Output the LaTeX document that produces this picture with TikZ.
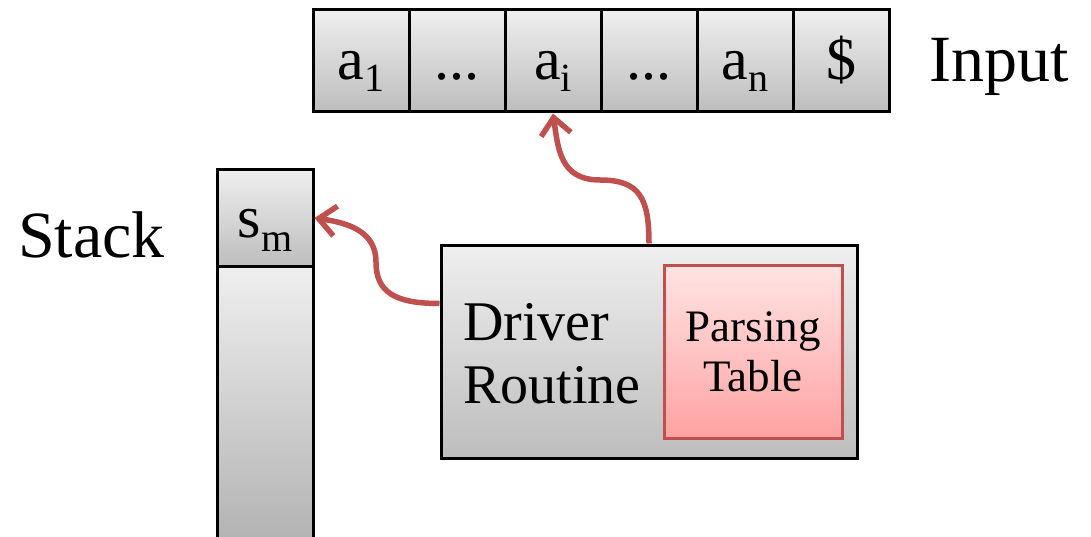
\documentclass[tikz,border=0pt]{standalone}
\usepackage{fontspec}
\setmainfont{Liberation Serif}
\usetikzlibrary{arrows.meta,calc}
\definecolor{cellTop}{HTML}{EFEFEF}
\definecolor{cellBot}{HTML}{BDBDBD}
\definecolor{pinkTop}{HTML}{FFE4E4}
\definecolor{pinkBot}{HTML}{FFA2A2}
\definecolor{accent}{HTML}{C0504D}
\newcommand\lsub[2][12pt]{\raisebox{-#1}{\fontsize{40}{44}\selectfont #2}}
\begin{document}
\begin{tikzpicture}[x=1pt,y=-1pt,
  cell/.style={draw=black,line width=3pt,top color=cellTop,bottom color=cellBot,
    minimum width=96pt,minimum height=102pt,inner sep=0pt,
    font=\fontsize{60}{66}\selectfont,text height=40pt,text depth=2pt},
  bigbox/.style={draw=black,line width=3pt,top color=cellTop,bottom color=cellBot,inner sep=0pt},
  ptab/.style={draw=accent,line width=3pt,top color=pinkTop,bottom color=pinkBot,inner sep=0pt,
    align=center,font=\fontsize{45}{50}\selectfont},
  lbl/.style={anchor=base west,inner sep=0pt,font=\fontsize{66}{72}\selectfont},
  conn/.style={draw=accent,line width=5.5pt,-{Straight Barb[length=17pt,width=30pt]}}]
\useasboundingbox (0,0) rectangle (1091,537);
\clip (0,0) rectangle (1091,537);
% input tape
\node[cell] (c1) at (361,61) {a\lsub{1}};
\node[cell] (c2) at (457,61) {...};
\node[cell] (c3) at (553,61) {a\lsub{i}};
\node[cell] (c4) at (649,61) {...};
\node[cell] (c5) at (745,61) {a\lsub{n}};
\node[cell] (c6) at (841,61) {\$};
\node[lbl] (inp) at (929,82) {Input};
% stack
\node[cell,minimum height=96pt] (sm) at (265,218) {s\lsub[14pt]{m}};
\node[bigbox,minimum width=96pt,minimum height=334pt,bottom color=black!35] (st) at (265,433) {};
\node[lbl] (stk) at (18,258) {Stack};
% driver
\node[bigbox,minimum width=416pt,minimum height=213pt] (drv) at (649,351.5) {};
\node[anchor=base west,inner sep=0pt,align=left,font=\fontsize{56}{63}\selectfont] (drt) at (463,403) {Driver\\Routine};
\node[ptab,minimum width=178pt,minimum height=173pt] (pt) at (753,351.5) {Parsing\\Table};
% connectors
\coordinate (m1) at (600,180);
\coordinate (m2) at (376,262);
\draw[conn] (drv.north) .. controls +(0,-45) and +(40,0) .. (m1)
  .. controls +(-40,0) and +(5,35) .. (c3.south);
\draw[conn] ([yshift=-60pt]drv.north west) .. controls +(-45,0) and +(0,30) .. (m2)
  .. controls +(0,-30) and +(35,5) .. (sm.east);
\end{tikzpicture}
\end{document}
